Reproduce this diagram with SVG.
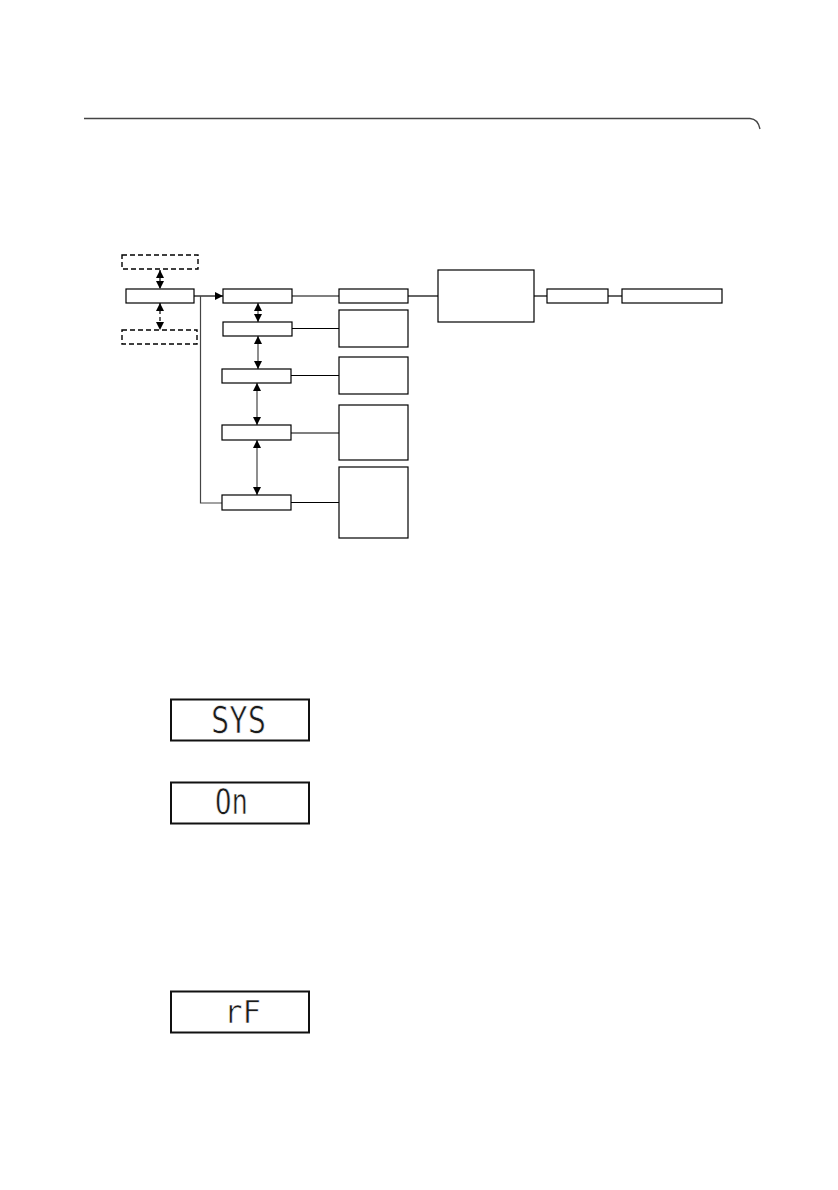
<svg xmlns="http://www.w3.org/2000/svg" width="838" height="1190" viewBox="0 0 838 1190">
<defs>
<marker id="ah" viewBox="0 0 8 8" refX="8" refY="4" markerWidth="8" markerHeight="8" markerUnits="userSpaceOnUse" orient="auto-start-reverse">
<path d="M0,0 L8,4 L0,8 z" fill="#000"/>
</marker>
<style>
.box{fill:#fff;stroke:#000;stroke-width:1.2}
.dbox{fill:#fff;stroke:#000;stroke-width:1.4;stroke-dasharray:5 3}
.ln{fill:none;stroke:#000;stroke-width:1.2}
.gl{fill:none;stroke:#444;stroke-width:1.2}
.dl{fill:none;stroke:#000;stroke-width:1.2;stroke-dasharray:4 3}
.lcd{fill:#fff;stroke:#111;stroke-width:2}
.seg{font-family:"DejaVu Sans Mono","Liberation Mono",monospace;fill:#1a1a1a;stroke:#fff;stroke-width:0.6}
</style>
</defs>
<rect width="838" height="1190" fill="#fff"/>
<path d="M84,118.5 H750 Q758,119 760,129" fill="none" stroke="#444" stroke-width="1.3"/>

<g id="connectors">
<line class="dl" x1="160" y1="270" x2="160" y2="289" marker-start="url(#ah)" marker-end="url(#ah)"/>
<line class="dl" x1="160" y1="303" x2="160" y2="330" marker-start="url(#ah)" marker-end="url(#ah)"/>
<path class="ln" d="M194,296 H223" marker-end="url(#ah)"/>
<path class="gl" d="M200.5,296 V503 H222"/>
<line class="gl" x1="258" y1="303" x2="258" y2="322" marker-start="url(#ah)" marker-end="url(#ah)"/>
<line class="gl" x1="258" y1="336" x2="258" y2="369" marker-start="url(#ah)" marker-end="url(#ah)"/>
<line class="gl" x1="257" y1="383" x2="257" y2="425" marker-start="url(#ah)" marker-end="url(#ah)"/>
<line class="gl" x1="257" y1="440" x2="257" y2="495" marker-start="url(#ah)" marker-end="url(#ah)"/>
<line class="ln" x1="292" y1="296" x2="339" y2="296"/>
<line class="ln" x1="292" y1="328.5" x2="339" y2="328.5"/>
<line class="ln" x1="291" y1="375.5" x2="339" y2="375.5"/>
<line class="ln" x1="291" y1="433" x2="339" y2="433"/>
<line class="ln" x1="291" y1="502.5" x2="339" y2="502.5"/>
<line class="ln" x1="408" y1="296" x2="438" y2="296"/>
<line class="ln" x1="534" y1="296" x2="547" y2="296"/>
<line class="ln" x1="608" y1="296" x2="622" y2="296"/>
</g>

<g id="n-top-dashed"><rect class="dbox" x="122" y="255" width="76" height="14"/></g>
<g id="n-main"><rect class="box" x="126" y="289" width="68" height="14"/></g>
<g id="n-bottom-dashed"><rect class="dbox" x="122" y="330" width="75" height="14"/></g>

<g id="n-a"><rect class="box" x="223" y="289" width="69" height="14"/></g>
<g id="n-b"><rect class="box" x="223" y="322" width="69" height="14"/></g>
<g id="n-c"><rect class="box" x="222" y="369" width="69" height="14"/></g>
<g id="n-d"><rect class="box" x="222" y="425" width="69" height="15"/></g>
<g id="n-e"><rect class="box" x="222" y="495" width="69" height="15"/></g>

<g id="n-r1"><rect class="box" x="339" y="289" width="69" height="14"/></g>
<g id="n-r2"><rect class="box" x="339" y="310" width="69" height="37"/></g>
<g id="n-r3"><rect class="box" x="339" y="357" width="69" height="37"/></g>
<g id="n-r4"><rect class="box" x="339" y="405" width="69" height="55"/></g>
<g id="n-r5"><rect class="box" x="339" y="467" width="69" height="71"/></g>

<g id="n-big"><rect class="box" x="438" y="270" width="96" height="52"/></g>
<g id="n-f1"><rect class="box" x="547" y="289" width="61" height="14"/></g>
<g id="n-f2"><rect class="box" x="622" y="289" width="100" height="14"/></g>

<g id="lcd-sys">
<rect class="lcd" x="171" y="699.5" width="138" height="41"/>
<text class="seg" x="211" y="733" font-size="37" textLength="55" lengthAdjust="spacingAndGlyphs">SYS</text>
</g>
<g id="lcd-on">
<rect class="lcd" x="171" y="782.5" width="138" height="41"/>
<text class="seg" x="215" y="813.5" font-size="36" textLength="33" lengthAdjust="spacingAndGlyphs">On</text>
</g>
<g id="lcd-rf">
<rect class="lcd" x="171" y="991.5" width="138" height="41"/>
<text class="seg" x="224" y="1022.5" font-size="32" textLength="37" lengthAdjust="spacingAndGlyphs">rF</text>
</g>
</svg>
